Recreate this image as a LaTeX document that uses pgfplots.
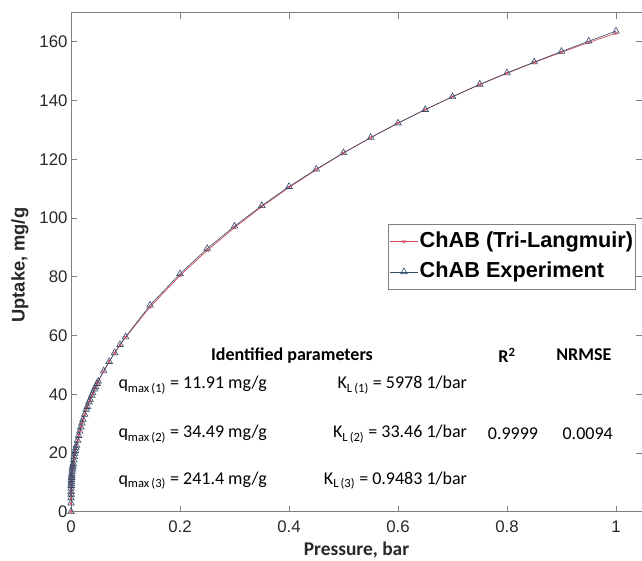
\documentclass[border=0pt]{standalone}
\usepackage{fontspec}
\setmainfont{Liberation Sans}
\newfontfamily\calibri{Carlito}
\usepackage{pgfplots}
\usepackage{pgfplotstable}
\pgfplotsset{compat=1.18}
\definecolor{axgray}{RGB}{128,128,128}
\definecolor{tickc}{RGB}{40,40,40}
\definecolor{modelred}{RGB}{214,72,92}
\definecolor{expblue}{RGB}{50,76,106}

\pgfplotstableread{
P q
0 0
0.00005 2.81
0.0001 4.59
0.00015 5.84
0.0002 6.76
0.0003 8.06
0.0004 8.95
0.0005 9.61
0.0006 10.13
0.0008 10.93
0.001 11.55
0.0012 12.06
0.0015 12.71
0.002 13.61
0.0025 14.40
0.003 15.11
0.0035 15.78
0.004 16.42
0.005 17.61
0.006 18.72
0.007 19.77
0.008 20.77
0.009 21.72
0.010 22.63
0.012 24.34
0.014 25.93
0.016 27.42
0.018 28.82
0.020 30.13
0.022 31.38
0.025 33.13
0.028 34.77
0.030 35.80
0.033 37.27
0.035 38.21
0.038 39.56
0.040 40.42
0.043 41.67
0.045 42.47
0.048 43.63
0.050 44.39
0.06 47.90
0.07 51.08
0.08 54.02
0.09 56.76
0.10 59.35
0.145 69.67
0.20 80.39
0.25 88.97
0.30 96.74
0.35 103.84
0.40 110.38
0.45 116.45
0.50 122.10
0.55 127.37
0.60 132.29
0.65 136.94
0.70 141.30
0.75 145.41
0.80 149.29
0.85 152.96
0.90 156.43
0.95 159.75
1.00 162.90
}\modeltable

\pgfplotstableread{
P q
0 0.0
0.00005 2.9
0.0001 4.7
0.00015 5.9
0.0002 6.8
0.0003 8.0
0.0004 8.9
0.0005 9.6
0.0006 10.1
0.0008 10.9
0.001 11.6
0.0012 12.1
0.0015 12.8
0.002 13.7
0.0025 14.5
0.003 15.2
0.0035 15.8
0.004 16.4
0.005 17.6
0.006 18.7
0.007 19.8
0.008 20.8
0.009 21.7
0.010 22.6
0.012 24.3
0.014 25.9
0.016 27.4
0.018 28.8
0.020 30.1
0.022 31.4
0.025 33.1
0.028 34.8
0.030 35.8
0.033 37.3
0.035 38.2
0.038 39.6
0.040 40.4
0.043 41.7
0.045 42.5
0.048 43.6
0.050 44.4
0.06 47.9
0.07 51.1
0.08 54.1
0.09 56.9
0.10 59.5
0.145 70.3
0.20 81.0
0.25 89.6
0.30 97.2
0.35 104.2
0.40 110.7
0.45 116.6
0.50 122.2
0.55 127.4
0.60 132.3
0.65 136.9
0.70 141.3
0.75 145.5
0.80 149.4
0.85 153.1
0.90 156.7
0.95 160.2
1.00 163.6
}\exptable

\begin{document}
\begin{tikzpicture}
\begin{axis}[
  scale only axis, width=571bp, height=499bp,
  xmin=0, xmax=1.0477, ymin=0, ymax=169.9,
  axis line style={axgray, line width=0.8bp},
  xtick={0,0.2,0.4,0.6,0.8,1}, ytick={0,20,...,160},
  xticklabels={0,0.2,0.4,0.6,0.8,1},
  tick align=inside, tick style={axgray, line width=0.8bp}, major tick length=6bp,
  ticklabel style={font=\fontsize{16.8bp}{20bp}\selectfont, text=tickc},
  /pgf/number format/assume math mode=true,
  xticklabel style={yshift=-6bp},
  xlabel={Pressure, bar}, ylabel={Uptake, mg/g},
  xlabel style={font=\calibri\bfseries\fontsize{19.4bp}{22bp}\selectfont, at={(axis description cs:0.5,-0.0772)}, anchor=center, text=tickc},
  ylabel style={font=\bfseries\fontsize{18.3bp}{22bp}\selectfont, at={(axis description cs:-0.0893,0.494)}, anchor=center, text=tickc},
  legend style={at={(axis description cs:0.9895,0.5762)}, anchor=north east, draw=axgray, line width=0.8bp,
    font=\bfseries\fontsize{21.7bp}{26bp}\selectfont, inner xsep=1bp, inner ysep=2bp, row sep=0bp,
    cells={anchor=west},
    nodes={inner xsep=1.5bp, inner ysep=4.6bp, text height=16bp, text depth=5bp}},
  legend image code/.code={\draw[mark repeat=2,mark phase=2,#1] plot coordinates {(0bp,0bp) (14bp,0bp) (28bp,0bp)};},
]
\addplot[modelred, line width=0.7bp, mark=x, mark size=2bp, mark options={solid}] table[x=P,y=q] {\modeltable};
\addlegendentry{ChAB (Tri-Langmuir)}
\addplot[expblue, line width=0.6bp, mark=triangle, mark size=3.8bp, mark options={solid, line width=0.6bp}] table[x=P,y=q] {\exptable};
\addlegendentry{ChAB Experiment}

\node[font=\calibri\bfseries\fontsize{18bp}{20bp}\selectfont] at (axis cs:0.4055,53.3) {Identified parameters};
\node[font=\calibri\bfseries\fontsize{18bp}{20bp}\selectfont] at (axis cs:0.80,53.3) {R\textsuperscript{2}};
\node[font=\calibri\bfseries\fontsize{18bp}{20bp}\selectfont] at (axis cs:0.941,53.3) {NRMSE};
\begin{scope}[every node/.style={font=\calibri\fontsize{18bp}{20bp}\selectfont}]
\node[anchor=west] at (axis cs:0.0807,43.06) {q\textsubscript{max\,(1)} = 11.91 mg/g};
\node[anchor=west] at (axis cs:0.0807,26.4) {q\textsubscript{max\,(2)} = 34.49 mg/g};
\node[anchor=west] at (axis cs:0.0807,10.7) {q\textsubscript{max\,(3)} = 241.4 mg/g};
\node[anchor=east] at (axis cs:0.733,43.06) {K\textsubscript{L\,(1)} = 5978 1/bar};
\node[anchor=east] at (axis cs:0.733,26.4) {K\textsubscript{L\,(2)} = 33.46 1/bar};
\node[anchor=east] at (axis cs:0.733,10.7) {K\textsubscript{L\,(3)} = 0.9483 1/bar};
\node at (axis cs:0.811,26.4) {0.9999};
\node at (axis cs:0.948,26.4) {0.0094};
\end{scope}
\end{axis}
\pgfresetboundingbox
\path (-71bp,-48.5bp) rectangle (571bp,511.7bp);
\end{tikzpicture}
\end{document}
